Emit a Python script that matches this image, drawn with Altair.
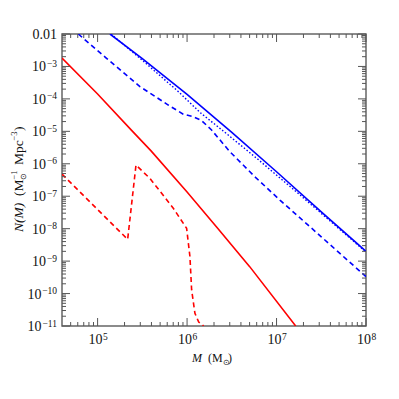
import altair as alt
import pandas as pd

# ---- data (log10 values) ----
blue_solid_lx = [5.138, 5.5, 6.0, 6.5, 7.0, 7.5, 8.0]
blue_solid_ly = [-2.0, -2.76, -3.86, -5.035, -6.245, -7.48, -8.70]

blue_dotted_lx = [5.15, 5.5, 5.9, 6.15, 6.4, 6.8, 7.3, 8.0]
blue_dotted_ly = [-2.0, -2.81, -3.77, -4.43, -4.98, -5.88, -7.05, -8.72]

blue_dashed_lx = [4.784, 5.1, 5.473, 5.79, 5.957, 6.069, 6.163, 6.274, 6.479, 6.758, 7.038, 7.5, 8.0]
blue_dashed_ly = [-2.0, -2.75, -3.62, -4.19, -4.47, -4.55, -4.67, -4.96, -5.63, -6.40, -7.12, -8.25, -9.48]

red_solid_lx = [4.602, 5.0, 5.38, 5.6, 6.0, 6.33, 6.7, 7.214]
red_solid_ly = [-2.74, -3.85, -4.97, -5.61, -6.87, -7.95, -9.17, -11.0]

red_dashed_lx = [4.602, 5.336, 5.429, 5.585, 5.846, 5.995, 6.032, 6.051, 6.088, 6.13, 6.185]
red_dashed_ly = [-6.32, -8.33, -6.04, -6.45, -7.37, -7.99, -8.86, -9.89, -10.61, -10.88, -11.0]

x_label_values = [1e5, 1e6, 1e7, 1e8]
x_label_exps = ["5", "6", "7", "8"]
y_label_values = [1e-3, 1e-4, 1e-5, 1e-6, 1e-7, 1e-8, 1e-9, 1e-10, 1e-11]
y_label_exps = ["−3", "−4", "−5", "−6", "−7", "−8", "−9", "−10", "−11"]
y_top_value = 1e-2
y_top_text = "0.01"

X_MIN, X_MAX = 4e4, 1e8
Y_MIN, Y_MAX = 1e-11, 1e-2
W, H = 304, 292
FONT = "Liberation Serif"
INK = "#111111"
BASE_FS = 14
EXP_FS = 9.5

xs = alt.Scale(type="log", domain=[X_MIN, X_MAX])
ys = alt.Scale(type="log", domain=[Y_MIN, Y_MAX])


def series_df(lx, ly):
    return pd.DataFrame({"M": [10 ** v for v in lx], "N": [10 ** v for v in ly], "o": list(range(len(lx)))})


def line(lx, ly, color, dash=None, width=1.6):
    kw = dict(color=color, strokeWidth=width, clip=True)
    if dash:
        kw["strokeDash"] = dash
    return alt.Chart(series_df(lx, ly)).mark_line(**kw).encode(
        x=alt.X("M:Q", scale=xs, axis=None),
        y=alt.Y("N:Q", scale=ys, axis=None),
        order="o:Q",
    )


layers = [
    line(blue_solid_lx, blue_solid_ly, "#0000ff"),
    line(blue_dotted_lx, blue_dotted_ly, "#0000ff", [1.5, 2.0], 1.4),
    line(blue_dashed_lx, blue_dashed_ly, "#0000ff", [5, 3.5]),
    line(red_solid_lx, red_solid_ly, "#ff0000"),
    line(red_dashed_lx, red_dashed_ly, "#ff0000", [5, 3.5]),
]

# ---- ticks (inward, all four sides) ----
x_major = list(x_label_values)
x_minor = [m * 10 ** d for d in range(4, 8) for m in range(2, 10) if X_MIN < m * 10 ** d < X_MAX]
y_major = [y_top_value] + list(y_label_values)
y_minor = [m * 10.0 ** d for d in range(-11, -2) for m in range(2, 10)]

TICK = "#555555"
for vals, ln in ((x_major, 8), (x_minor, 4)):
    d = pd.DataFrame({"M": vals})
    layers.append(alt.Chart(d).mark_rule(color=TICK, strokeWidth=1).encode(
        x=alt.X("M:Q", scale=xs, axis=None), y=alt.value(H), y2=alt.value(H - ln)))
    layers.append(alt.Chart(d).mark_rule(color=TICK, strokeWidth=1).encode(
        x=alt.X("M:Q", scale=xs, axis=None), y=alt.value(0), y2=alt.value(ln)))
for vals, ln in ((y_major, 8), (y_minor, 4)):
    d = pd.DataFrame({"N": vals})
    layers.append(alt.Chart(d).mark_rule(color=TICK, strokeWidth=1).encode(
        y=alt.Y("N:Q", scale=ys, axis=None), x=alt.value(0), x2=alt.value(ln)))
    layers.append(alt.Chart(d).mark_rule(color=TICK, strokeWidth=1).encode(
        y=alt.Y("N:Q", scale=ys, axis=None), x=alt.value(W), x2=alt.value(W - ln)))

# ---- x tick labels: "10" + superscript ----
xl = pd.DataFrame({"M": x_label_values, "e": x_label_exps, "b": ["10"] * len(x_label_values)})
layers.append(alt.Chart(xl).mark_text(font=FONT, fontSize=BASE_FS, align="right", baseline="alphabetic",
                                      color=INK, dx=5).encode(
    x=alt.X("M:Q", scale=xs, axis=None), y=alt.value(H + 18), text="b:N"))
layers.append(alt.Chart(xl).mark_text(font=FONT, fontSize=EXP_FS, align="left", baseline="alphabetic",
                                      color=INK, dx=5.5, dy=-4.5).encode(
    x=alt.X("M:Q", scale=xs, axis=None), y=alt.value(H + 18), text="e:N"))

# ---- y tick labels ----
yl = pd.DataFrame({"N": y_label_values, "e": y_label_exps, "b": ["10"] * len(y_label_values)})
yl["long"] = [len(e) > 2 for e in y_label_exps]
for is_long, base_x in ((False, -16.0), (True, -20.5)):
    sub = yl[yl["long"] == is_long]
    layers.append(alt.Chart(sub).mark_text(font=FONT, fontSize=BASE_FS, align="right", baseline="alphabetic",
                                           color=INK, dy=5).encode(
        y=alt.Y("N:Q", scale=ys, axis=None), x=alt.value(base_x), text="b:N"))
    layers.append(alt.Chart(sub).mark_text(font=FONT, fontSize=EXP_FS, align="right", baseline="alphabetic",
                                           color=INK, dy=0.5).encode(
        y=alt.Y("N:Q", scale=ys, axis=None), x=alt.value(-5), text="e:N"))
layers.append(alt.Chart(pd.DataFrame({"N": [y_top_value], "t": [y_top_text]})).mark_text(
    font=FONT, fontSize=BASE_FS, align="right", baseline="alphabetic", color=INK, dy=5).encode(
    y=alt.Y("N:Q", scale=ys, axis=None), x=alt.value(-5), text="t:N"))


# ---- axis titles built from pieces (text, size, style, dx along text, dy) ----
def title_pieces(pieces, ax, ay, angle):
    out = []
    one = pd.DataFrame({"a": [0]})
    for txt, fs, style, dx, dy in pieces:
        kw = dict(font=FONT, fontSize=fs, align="left", baseline="alphabetic", color=INK, dx=dx, dy=dy)
        if style:
            kw["fontStyle"] = style
        if angle:
            kw["angle"] = angle
        out.append(alt.Chart(one).mark_text(**kw).encode(
            x=alt.value(ax), y=alt.value(ay), text=alt.value(txt)))
    return out


XT = 12
x_title = [
    ("M", XT, "italic", 0, 0),
    ("(M", XT, None, 16, 0),
    ("⊙", 7.5, None, 30.5, 3),
    (")", XT, None, 36, 0),
]
layers += title_pieces(x_title, W / 2 - 22, H + 36, 0)

YT = 13.5
y_title = [
    ("N(M)", YT, "italic", 0, 0),
    ("(M", YT, None, 36, 0),
    ("⊙", 8, None, 52.5, 3),
    ("−1", 8.5, None, 52.5, -6),
    ("Mpc", YT, None, 67, 0),
    ("−3", 8.5, None, 91.5, -6),
    (")", YT, None, 101, 0),
]
layers += title_pieces(y_title, -39, H / 2 + 52, 270)

chart = alt.layer(*layers).properties(
    width=W, height=H,
    padding={"left": 54, "top": 26, "right": 25, "bottom": 65},
    autosize="none",
).configure_view(stroke="#666666", strokeWidth=1.5)

chart.save("out.html", embed_options={"renderer": "svg", "actions": False})
